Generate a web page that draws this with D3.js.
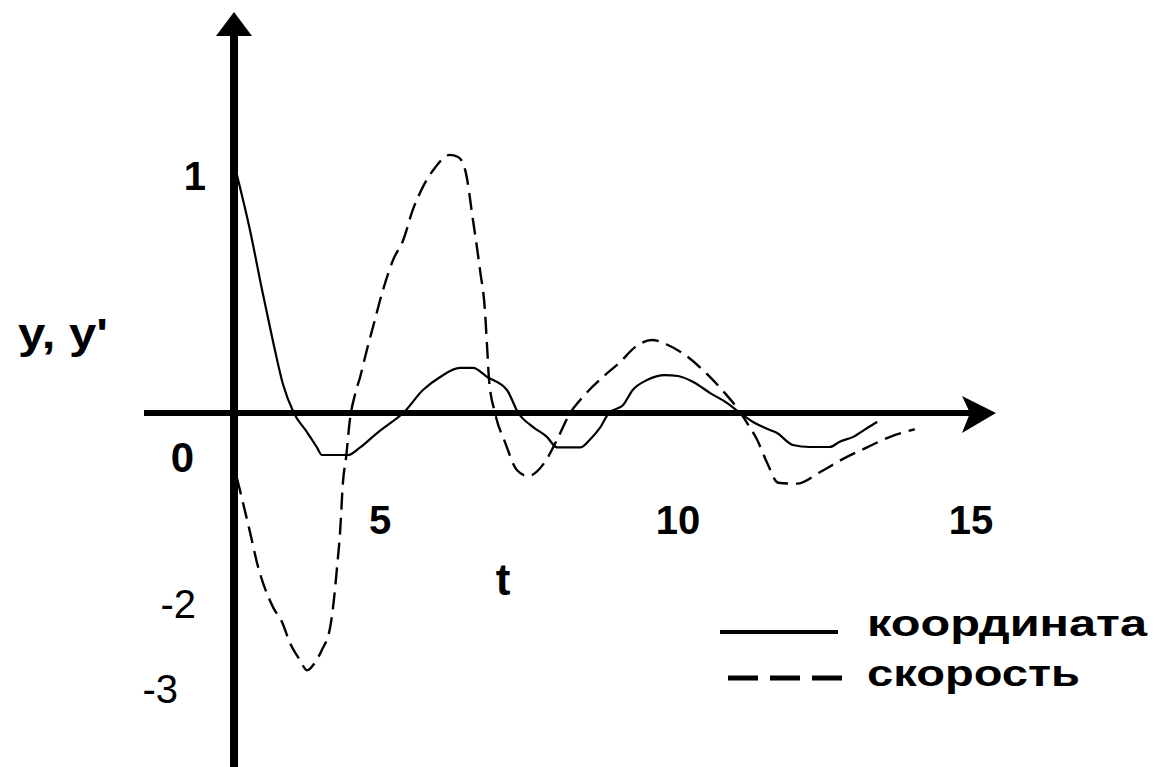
<!DOCTYPE html>
<html>
<head>
<meta charset="utf-8">
<script src="https://cdn.jsdelivr.net/npm/d3@7"></script>
<style>
    body { margin: 0; background: #fff; }
    svg { display: block; }
</style>
</head>
<body>
<div id="container"><svg></svg></div>
<script>
let width = 1155;
let height = 767;
let fontFamily = "'Liberation Sans', Arial, sans-serif";

// координата (solid)
let coord_t = [0.07, 0.55, 0.96, 1.34, 1.68, 2.05, 2.50, 2.84, 3.01, 3.90, 4.32, 4.90,
    5.20, 5.39, 5.72, 6.01, 6.34, 6.56, 6.80, 7.13, 7.32, 7.57, 7.80, 7.97, 8.36, 8.52,
    8.69, 8.84, 9.08, 9.24, 9.48, 9.78, 10.0, 10.26, 10.55, 10.84, 11.06, 11.28, 11.57,
    11.69, 11.96, 12.25, 12.59, 12.76, 12.99, 13.23, 13.40];
let coord_y = [1.02, 0.77, 0.52, 0.30, 0.12, 0, -0.20, -0.36, -0.44, -0.44, -0.36, -0.21,
    -0.094, 0, 0.097, 0.152, 0.19, 0.19, 0.152, 0.097, 0, -0.147, -0.25, -0.36, -0.36, -0.28,
    -0.157, 0, 0.034, 0.097, 0.139, 0.16, 0.156, 0.131, 0.084, 0.042, 0, -0.094, -0.178,
    -0.21, -0.335, -0.356, -0.356, -0.30, -0.25, -0.157, -0.094];

// скорость (dashed)
let speed_t = [0.10, 0.55, 0.79, 1.34, 1.64, 1.92, 2.26, 2.50, 2.77, 3.01, 3.29, 3.42,
    3.53, 3.63, 3.73, 3.84, 3.97, 4.14, 4.32, 4.55, 4.76, 5.05, 5.22, 5.39, 5.55, 5.72,
    5.92, 6.17, 6.31, 6.43, 6.56, 6.68, 6.76, 6.80, 6.83, 6.93, 7.10, 7.30, 7.48, 7.77,
    7.97, 8.19, 8.36, 8.74, 9.03, 9.28, 9.56, 9.83, 10.12, 10.46, 10.80, 11.01, 11.18,
    11.35, 11.52, 11.71, 12.03, 12.42, 12.85, 13.19, 13.62, 14.04];
let speed_y = [-0.68, -1.25, -1.57, -2.04, -2.21, -2.46, -2.66, -2.78, -2.69, -2.54, -2.28, -1.96,
    -1.61, -1.26, -0.73, -0.46, -0.07, 0.076, 0.152, 0.266, 0.363, 0.519, 0.646, 0.73, 0.857, 0.954,
    1.034, 1.089, 1.08, 1.025, 0.814, 0.60, 0.435, 0.266, 0.139, 0, -0.31, -0.60, -0.66, -0.51,
    -0.28, 0, 0.055, 0.152, 0.215, 0.278, 0.308, 0.287, 0.245, 0.173, 0.084, 0.021, -0.105,
    -0.28, -0.52, -0.73, -0.74, -0.62, -0.47, -0.37, -0.25, -0.17];

// tick labels as drawn in the picture
let x_ticks = [5, 10, 15];
let y_ticks = [1, -2, -3];
let y_tick_bold = [true, false, false];
let legend_names = ['координата', 'скорость'];

function draw_main() {
    let svg = d3.select('#container').select('svg')
        .attr('width', width)
        .attr('height', height)
        .style('font-family', fontFamily);

    // the hand-drawn axes are not uniform, so the scales are piecewise
    let x = d3.scaleLinear()
        .domain([0, 5, 10, 15])
        .range([234, 380, 678, 971]);
    let y = d3.scaleLinear()
        .domain([-3, -2, 0, 1])
        .range([689, 604, 413, 176]);

    // y axis with arrow
    svg.append('line')
        .attr('x1', x(0)).attr('x2', x(0))
        .attr('y1', 30).attr('y2', height)
        .attr('stroke', '#000')
        .attr('stroke-width', 8);
    svg.append('path')
        .attr('d', `M${x(0) - 18},36 L${x(0)},12 L${x(0) + 18},36 Z`)
        .attr('fill', '#000');

    // x axis with arrow
    svg.append('line')
        .attr('x1', 144).attr('x2', 975)
        .attr('y1', y(0)).attr('y2', y(0))
        .attr('stroke', '#000')
        .attr('stroke-width', 6);
    svg.append('path')
        .attr('d', `M962,${y(0) - 17} L996,${y(0)} L962,${y(0) + 20} L970,${y(0)} Z`)
        .attr('fill', '#000');

    let line = d3.line()
        .x(d => x(d[0]))
        .y(d => y(d[1]))
        .curve(d3.curveMonotoneX);

    let coord = coord_t.map((t, i) => [t, coord_y[i]]);
    let speed = speed_t.map((t, i) => [t, speed_y[i]]);

    svg.append('path')
        .datum(speed)
        .attr('d', line)
        .attr('fill', 'none')
        .attr('stroke', '#000')
        .attr('stroke-width', 2.4)
        .attr('stroke-dasharray', '17,8');

    svg.append('path')
        .datum(coord)
        .attr('d', line)
        .attr('fill', 'none')
        .attr('stroke', '#000')
        .attr('stroke-width', 2.2);

    // x tick labels
    svg.append('g')
        .selectAll('text')
        .data(x_ticks)
        .enter().append('text')
        .attr('x', d => x(d))
        .attr('y', 520)
        .attr('text-anchor', 'middle')
        .attr('dominant-baseline', 'central')
        .attr('font-size', 40)
        .attr('font-weight', 'bold')
        .text(d => d);

    // y tick labels
    svg.append('g')
        .selectAll('text')
        .data(y_ticks)
        .enter().append('text')
        .attr('x', (d, i) => i == 2 ? 178 : (i == 0 ? 206 : 196))
        .attr('y', d => y(d))
        .attr('text-anchor', 'end')
        .attr('dominant-baseline', 'central')
        .attr('font-size', 40)
        .attr('font-weight', (d, i) => y_tick_bold[i] ? 'bold' : 'normal')
        .text(d => String(d).replace('-', '-'));

    // origin
    svg.append('text')
        .attr('x', 194)
        .attr('y', y(0) + 44)
        .attr('text-anchor', 'end')
        .attr('dominant-baseline', 'central')
        .attr('font-size', 42)
        .attr('font-weight', 'bold')
        .text('0');

    // axis names
    svg.append('text')
        .attr('x', 18)
        .attr('y', 348)
        .attr('font-size', 42)
        .attr('font-weight', 'bold')
        .attr('textLength', 90)
        .attr('lengthAdjust', 'spacingAndGlyphs')
        .text("y,  y'");
    svg.append('text')
        .attr('x', 503)
        .attr('y', 595)
        .attr('text-anchor', 'middle')
        .attr('font-size', 44)
        .attr('font-weight', 'bold')
        .text('t');

    // legend
    let legend = svg.append('g');
    legend.append('line')
        .attr('x1', 720).attr('x2', 838)
        .attr('y1', 632).attr('y2', 632)
        .attr('stroke', '#000')
        .attr('stroke-width', 4);
    legend.append('line')
        .attr('x1', 728).attr('x2', 843)
        .attr('y1', 678).attr('y2', 678)
        .attr('stroke', '#000')
        .attr('stroke-width', 5)
        .attr('stroke-dasharray', '30,12');
    legend.selectAll('text.name')
        .data(legend_names)
        .enter().append('text')
        .attr('class', 'name')
        .attr('x', 867)
        .attr('y', (d, i) => i == 0 ? 636 : 686)
        .attr('font-size', 36)
        .attr('font-weight', 'bold')
        .attr('textLength', (d, i) => i == 0 ? 280 : 213)
        .attr('lengthAdjust', 'spacingAndGlyphs')
        .text(d => d);
}

draw_main();
</script>
</body>
</html>
